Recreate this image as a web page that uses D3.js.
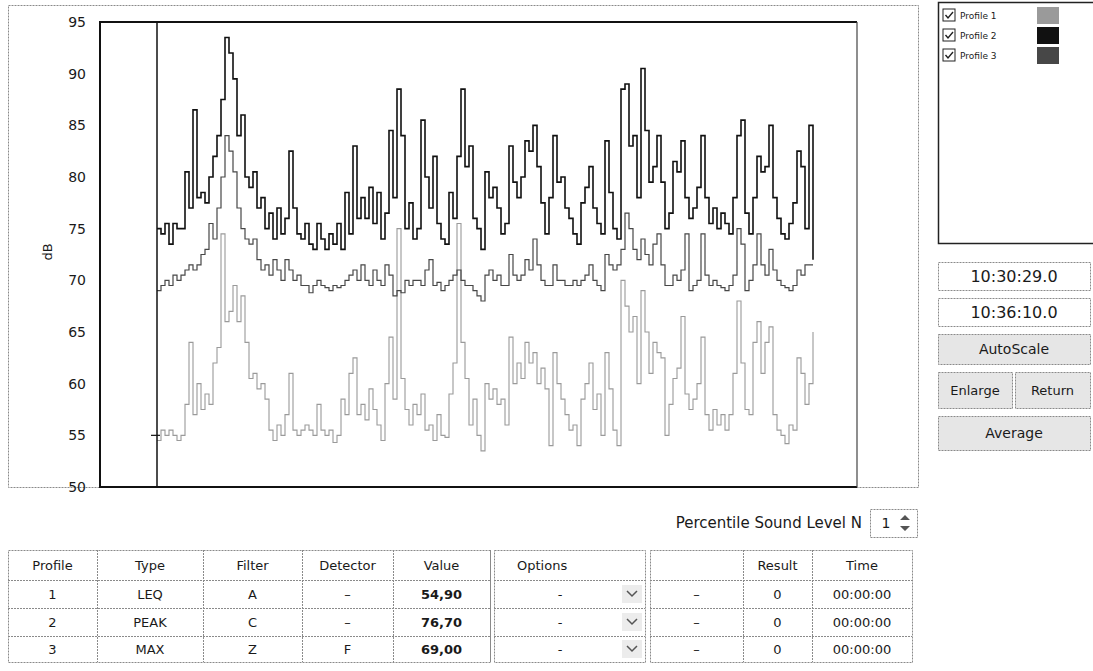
<!DOCTYPE html>
<html>
<head>
<meta charset="utf-8">
<script src="https://cdn.jsdelivr.net/npm/d3@7"></script>
<style>
body { margin: 0; background: #fff; }
svg text { font-family: "DejaVu Sans", sans-serif; fill: #1a1a1a; }
</style>
</head>
<body>
<svg id="chart" width="1093" height="671"></svg>
<script>
// sound level traces, dB, one value every sample step
var profile1 = [54.5,55.5,55,55.5,55,54.5,55,58,64,57, 60,57.5,59,58,62,63.5,74.5,66,67,69.5, 66,68.5,64,60.5,61,59.5,60,58.5,55.5,54.5, 56,55,57,
  61,55.5,55,55.5,56,55.5,55,58,55.5,55, 55.5,54.3,55,58.5,57,61,62.5,57,58,56.5, 59.5,57.5,56,54.5,60,64.5,58.5,75,60.5,57.5, 56,58,
  57,59,55.5,56,54.5,57,55,54.8,59,62, 75.5,64,60.5,56,58.5,55,53.5,60,58.5,59.5, 58,58.5,56,64.5,60,62,60.5,64,62,63, 60,61.5,59.5,
  54,63,60,58.5,57,55.5,56,54,58.5,60, 62,57.5,59,55,63,59.5,55.5,54,70,67.5, 65,66.5,60,69,65,61,64,63,62.5,55, 58,60.5,
  61.5,66.5,59,57.5,58.5,60,64.5,57,55.5,57.5, 56,57,55.5,57,61,68,62,57.5,57,64, 66,61,64,65.5,57,55.5,55,54.2,56,55.5, 62.5,61,58,60,65];
var profile2 = [75,74.5,75.5,73.5,75.5,75,75,80.5,77,86.5, 78,78.5,77.5,80,82,84,87.5,93.5,92,89.5, 84,86,80,79,80.5,77,78,75,76.5,74, 77,74.5,76,
  82.5,77,74.5,74,75.5,73.5,73,75.5,74,73, 74.5,73.5,75.5,73,78.5,74.5,83,76,78,76, 79,75.5,78.5,74,76.5,84.5,78,88.5,84,75, 77.5,74,
  75,85.5,80,77,82,75.5,74,73.5,78.5,76, 82,88.5,81,83,76,75,73,80.5,78,79, 77,74.5,75.5,83,79.5,78,80,83.5,82.5,85, 81,77.5,74.5,
  78,84,79.5,80,77,76,74.5,73.5,77.5,79, 81,77,75.5,74.5,83.5,78.5,75,74,88.5,89, 83,84,78,90.5,84.5,79.5,81,84,79.5,75, 76.5,81.5,
  80.5,83.5,78,76,77,79,84,78,75.5,77, 75,76.5,75.5,74.5,78,84,85.5,76.5,74.5,78, 82,80.5,81,85,78,76,74.5,74,75.5,77.5, 82.5,81,75,85,72];
var profile3 = [69,69.5,70,69.5,70.5,70,70.5,71,71.5,71, 71.5,72.5,73,75.5,74,77,80,84,82.5,80.5, 77,75,74,73.5,74,72,71,71.5,70.5,72, 71,70,72,
  71,70,70.5,69.5,69.5,68.8,69.5,70,69.5,69.3, 69,69.5,69.3,69.5,70,70.5,71,70,71.5,70, 69.5,71,70,69.5,71.5,70.5,68.5,69,68.8,70, 69.5,70,
  70,69.5,71,72,69.5,69.8,69,69.5,70,70.5, 71,70,69.5,69.5,69,68.5,68,70.5,71,70, 70.5,69.5,69.5,72.5,70.5,70,70.5,72,71,74, 71.5,70,69.5,
  69.5,71.5,70,70,69.5,69.5,70,69.5,70,70.5, 71.5,70,69.5,69,72.5,71.5,71,71.5,73,76.5, 75,73,72,74,72.5,71.5,73.5,74.5,71.5,69.5, 69.5,70.5,
  70,71,74.5,69,69.5,70,74.5,70.5,69.5,70, 69.5,69.3,69,69.5,70.5,75,73.5,69,70,71.5, 74.5,71.5,70.5,73,71,70,69.5,69.3,69,69.5, 71,70.5,71.5,71.5,71.5];

var yTicks = [50, 55, 60, 65, 70, 75, 80, 85, 90, 95];
var profileNames = ["Profile 1", "Profile 2", "Profile 3"];
var profileColors = ["#9a9a9a", "#111111", "#474747"];
var timeFrom = "10:30:29.0", timeTo = "10:36:10.0";
var buttons = ["AutoScale", "Enlarge", "Return", "Average"];

var tableHead = ["Profile", "Type", "Filter", "Detector", "Value"];
var tableRows = [["1", "LEQ", "A", "–", "54,90"],
                 ["2", "PEAK", "C", "–", "76,70"],
                 ["3", "MAX", "Z", "F", "69,00"]];
var optionHead = "Options";
var optionRows = ["-", "-", "-"];
var resultHead = ["", "Result", "Time"];
var resultRows = [["–", "0", "00:00:00"],
                  ["–", "0", "00:00:00"],
                  ["–", "0", "00:00:00"]];
var percentileLabel = "Percentile Sound Level N", percentileN = "1";

var svg = d3.select("#chart");
var plotL = 100, plotT = 22, plotR = 857, plotB = 487;
var dataL = 157, dataR = 813;

var x = d3.scaleLinear().domain([0, profile2.length - 1]).range([dataL, dataR]);
var y = d3.scaleLinear().domain([50, 95]).range([plotB, plotT]);

// outer frame of the graph panel
svg.append("rect")
  .attr("x", 8.5).attr("y", 5.5).attr("width", 910).attr("height", plotB - 5)
  .attr("fill", "none").attr("stroke", "#8a8a8a").attr("stroke-dasharray", "2,1");

svg.append("rect")
  .attr("x", plotL).attr("y", plotT).attr("width", plotR - plotL).attr("height", plotB - plotT)
  .attr("fill", "#fff").attr("stroke", "none");
svg.append("path")
  .attr("d", "M" + plotR + "," + plotB + " L" + plotL + "," + plotB + " L" + plotL + "," + plotT + " L" + plotR + "," + plotT)
  .attr("fill", "none").attr("stroke", "#111").attr("stroke-width", 2);
svg.append("line")
  .attr("x1", plotR).attr("x2", plotR).attr("y1", plotT).attr("y2", plotB)
  .attr("stroke", "#444").attr("stroke-width", 1.2);

var yAxis = svg.append("g")
  .attr("transform", "translate(" + plotL + ",0)")
  .call(d3.axisLeft(y).tickValues(yTicks).tickSize(0).tickPadding(14));
yAxis.select(".domain").remove();
yAxis.selectAll("text")
  .style("font-family", "DejaVu Sans, sans-serif")
  .style("font-size", "14px")
  .attr("fill", "#222");

svg.append("text")
  .attr("transform", "translate(52,252) rotate(-90)")
  .attr("text-anchor", "middle")
  .style("font-size", "13px")
  .text("dB");

// traces
var line = d3.line()
  .x(function(d, i) { return x(i); })
  .y(function(d) { return y(d); })
  .curve(d3.curveStepAfter);

var series = [profile1, profile3, profile2];
var seriesColor = [profileColors[0], profileColors[2], profileColors[1]];
var seriesWidth = [1.1, 1.2, 1.6];
series.forEach(function(s, k) {
  svg.append("path")
    .datum(s)
    .attr("d", line)
    .attr("fill", "none")
    .attr("stroke", seriesColor[k])
    .attr("stroke-width", seriesWidth[k]);
});

// cursor
svg.append("line")
  .attr("x1", x(0)).attr("x2", x(0)).attr("y1", plotT).attr("y2", plotB)
  .attr("stroke", "#111").attr("stroke-width", 1.5);
svg.append("line")
  .attr("x1", x(0) - 6).attr("x2", x(0) + 3).attr("y1", y(55)).attr("y2", y(55))
  .attr("stroke", "#111").attr("stroke-width", 1.2);

// legend panel
svg.append("rect")
  .attr("x", 938.5).attr("y", 2.5).attr("width", 160).attr("height", 241)
  .attr("fill", "#fff").attr("stroke", "#222").attr("stroke-width", 1.5);

var leg = svg.selectAll(".leg").data(profileNames).enter().append("g")
  .attr("class", "leg")
  .attr("transform", function(d, i) { return "translate(943," + (9 + i * 20) + ")"; });
leg.append("rect")
  .attr("width", 12).attr("height", 12)
  .attr("fill", "#fff").attr("stroke", "#222");
leg.append("path")
  .attr("d", "M2.5,6 L5,9 L10,3")
  .attr("fill", "none").attr("stroke", "#222").attr("stroke-width", 1.4);
leg.append("text")
  .attr("x", 17).attr("y", 10)
  .style("font-size", "9px")
  .attr("fill", "#555")
  .text(function(d) { return d; });
leg.append("rect")
  .attr("x", 94).attr("y", -2).attr("width", 22).attr("height", 17)
  .attr("fill", function(d, i) { return profileColors[i]; });

// time boxes and buttons
function box(x0, y0, w, h, label, fill, size) {
  svg.append("rect")
    .attr("x", x0 + 0.5).attr("y", y0 + 0.5).attr("width", w).attr("height", h)
    .attr("fill", fill).attr("stroke", "#8a8a8a").attr("stroke-dasharray", "2,1");
  svg.append("text")
    .attr("x", x0 + w / 2).attr("y", y0 + h / 2)
    .attr("dy", "0.36em")
    .attr("text-anchor", "middle")
    .style("font-size", size + "px")
    .text(label);
}
box(938, 262, 152, 28, timeFrom, "#fff", 16);
box(938, 298, 152, 28, timeTo, "#fff", 16);
box(938, 334, 152, 30, buttons[0], "#e6e6e6", 14);
box(938, 372, 74, 36, buttons[1], "#e6e6e6", 13);
box(1015, 372, 75, 36, buttons[2], "#e6e6e6", 13);
box(938, 416, 152, 34, buttons[3], "#e6e6e6", 14);

// percentile control
svg.append("text")
  .attr("x", 862).attr("y", 528)
  .attr("text-anchor", "end")
  .style("font-size", "15px")
  .text(percentileLabel);
svg.append("rect")
  .attr("x", 870.5).attr("y", 509.5).attr("width", 47).attr("height", 28)
  .attr("fill", "#fff").attr("stroke", "#8a8a8a").attr("stroke-dasharray", "2,1");
svg.append("text")
  .attr("x", 886).attr("y", 528).attr("text-anchor", "middle")
  .style("font-size", "14px").text(percentileN);
svg.append("path")
  .attr("d", "M905,515 L910,520 L900,520 Z M900,526 L910,526 L905,531 Z")
  .attr("fill", "#555");

// tables
var rowY = [550, 580, 608, 636, 662];

function grid(cols) {
  var g = svg.append("g");
  g.append("rect")
    .attr("x", cols[0] + 0.5).attr("y", rowY[0] + 0.5)
    .attr("width", cols[cols.length - 1] - cols[0]).attr("height", rowY[rowY.length - 1] - rowY[0])
    .attr("fill", "#fff").attr("stroke", "#8a8a8a").attr("stroke-dasharray", "2,1");
  rowY.slice(1, -1).forEach(function(ry) {
    g.append("line").attr("x1", cols[0]).attr("x2", cols[cols.length - 1])
      .attr("y1", ry + 0.5).attr("y2", ry + 0.5)
      .attr("stroke", "#8a8a8a").attr("stroke-dasharray", "2,1");
  });
  cols.slice(1, -1).forEach(function(cx) {
    g.append("line").attr("x1", cx + 0.5).attr("x2", cx + 0.5)
      .attr("y1", rowY[0]).attr("y2", rowY[rowY.length - 1])
      .attr("stroke", "#8a8a8a").attr("stroke-dasharray", "2,1");
  });
  return g;
}
function cell(x0, y0, txt, bold, anchor) {
  svg.append("text")
    .attr("x", x0).attr("y", y0).attr("dy", "0.36em")
    .attr("text-anchor", anchor || "middle")
    .style("font-size", "13px")
    .style("font-weight", bold ? "bold" : "normal")
    .text(txt);
}
function mid(a, b) { return (a + b) / 2; }

var cols1 = [8, 97, 203, 302, 393, 490];
grid(cols1);
tableHead.forEach(function(h, j) { cell(mid(cols1[j], cols1[j + 1]), mid(rowY[0], rowY[1]), h); });
tableRows.forEach(function(r, i) {
  r.forEach(function(v, j) { cell(mid(cols1[j], cols1[j + 1]), mid(rowY[i + 1], rowY[i + 2]), v, j === 4); });
});

var cols2 = [494, 645];
grid(cols2);
cell(517, mid(rowY[0], rowY[1]), optionHead, false, "start");
optionRows.forEach(function(v, i) {
  var cy = mid(rowY[i + 1], rowY[i + 2]);
  cell(560, cy, v);
  svg.append("rect").attr("x", 622).attr("y", cy - 9).attr("width", 20).attr("height", 18).attr("fill", "#ececec");
  svg.append("path").attr("d", "M627," + (cy - 3) + " L632," + (cy + 2) + " L637," + (cy - 3))
    .attr("fill", "none").attr("stroke", "#555").attr("stroke-width", 1.5);
});
svg.append("line").attr("x1", 490.5).attr("x2", 490.5).attr("y1", rowY[0]).attr("y2", rowY[4])
  .attr("stroke", "#8a8a8a");

var cols3 = [650, 743, 812, 912];
grid(cols3);
resultHead.forEach(function(h, j) { cell(mid(cols3[j], cols3[j + 1]), mid(rowY[0], rowY[1]), h); });
resultRows.forEach(function(r, i) {
  r.forEach(function(v, j) { cell(mid(cols3[j], cols3[j + 1]), mid(rowY[i + 1], rowY[i + 2]), v); });
});
</script>
</body>
</html>
